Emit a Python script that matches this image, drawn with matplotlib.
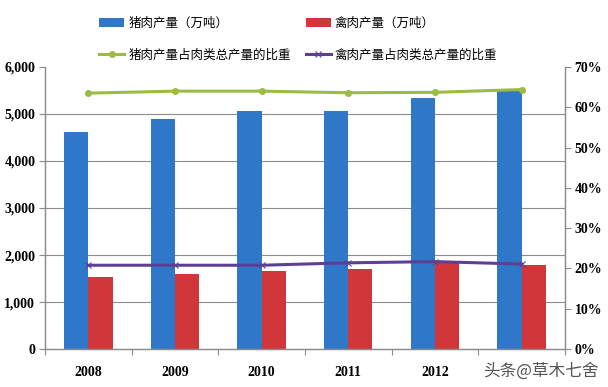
import matplotlib.pyplot as plt
import numpy as np
from matplotlib.ticker import FuncFormatter

years = ["2008", "2009", "2010", "2011", "2012", "2013"]
pork = [4620, 4890, 5071, 5060, 5343, 5493]
poultry = [1534, 1595, 1656, 1709, 1823, 1798]
pork_share = [63.5, 64.0, 64.0, 63.6, 63.7, 64.4]
poultry_share = [20.8, 20.8, 20.8, 21.4, 21.7, 21.1]

plt.rcParams['font.family'] = ['Noto Sans CJK SC', 'DejaVu Sans']

fig = plt.figure(figsize=(6.08, 3.87), dpi=100)
ax = fig.add_axes([0.074, 0.098, 0.855, 0.729])
ax2 = ax.twinx()

x = np.arange(len(years))
w = 0.28
b1 = ax.bar(x - w / 2, pork, w, color="#2F78C9", label="猪肉产量（万吨）", zorder=2)
b2 = ax.bar(x + w / 2, poultry, w, color="#D0363A", label="禽肉产量（万吨）", zorder=2)

l1, = ax2.plot(x, pork_share, color="#9BBB44", lw=2.2, marker="o", ms=4,
               label="猪肉产量占肉类总产量的比重")
l2, = ax2.plot(x, poultry_share, color="#5E3F96", lw=2.2, marker="x", ms=5,
               mew=0.8, label="禽肉产量占肉类总产量的比重")

ax.set_xlim(-0.5, len(years) - 0.5)
ax.set_ylim(0, 6000)
ax2.set_ylim(0, 70)
ax.set_yticks(range(0, 6001, 1000))
ax2.set_yticks(range(0, 71, 10))
ax.yaxis.set_major_formatter(FuncFormatter(lambda v, p: f"{int(v):,}"))
ax2.yaxis.set_major_formatter(FuncFormatter(lambda v, p: f"{int(v)}%"))

for y in range(1000, 6000, 1000):
    ax.axhline(y, color="#8C8C8C", lw=0.8, zorder=1)

# the last year label sits under the watermark in the reference
shown = years[:-1] + [""]
ax.set_xticks(np.arange(-0.5, len(years), 1.0))
ax.set_xticklabels([])
ax.set_xticks(x, minor=True)
ax.set_xticklabels(shown, minor=True)
ax.tick_params(axis="x", which="minor", length=0, pad=12)
ax.tick_params(axis="x", which="major", length=4, color="#8C8C8C")

for lab in ax.get_xticklabels(minor=True) + ax.get_yticklabels() + ax2.get_yticklabels():
    lab.set_fontfamily("Liberation Serif")
    lab.set_fontweight("bold")
    lab.set_fontsize(10)

ax.tick_params(axis="y", length=4, color="#8C8C8C", pad=3)
ax2.tick_params(axis="y", length=4, color="#8C8C8C", pad=3)

for a in (ax, ax2):
    a.spines["top"].set_visible(False)
    for s in ("left", "right", "bottom"):
        a.spines[s].set_color("#8C8C8C")
        a.spines[s].set_linewidth(0.9)

fig.legend(handles=[b1, l1, b2, l2], loc="upper left", bbox_to_anchor=(0.145, 0.985),
           ncol=2, frameon=False, fontsize=9, columnspacing=1.2,
           handlelength=2.0, handletextpad=0.3, labelspacing=1.5)

fig.text(0.985, 0.04, "头条@草木七舍", ha="right", va="center", fontsize=12,
         color="#555555")

fig.savefig("out.png", dpi=100)
